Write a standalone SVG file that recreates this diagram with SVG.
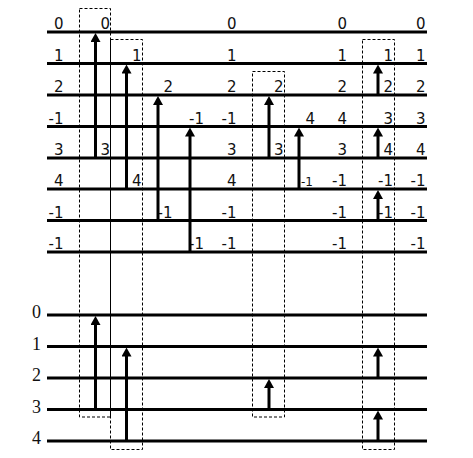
<svg xmlns="http://www.w3.org/2000/svg" width="473" height="458" viewBox="0 0 473 458">
<style>
.wire{stroke:#000;stroke-width:3;fill:none}
.arr{stroke:#000;stroke-width:3;fill:none;marker-end:url(#ah)}
.box{stroke:#000;stroke-width:1;fill:none;stroke-dasharray:3 2}
.t{font-family:"DejaVu Sans",Verdana,sans-serif;font-size:15px;fill:#111;text-anchor:end}
.ts{font-size:12px}
.b{font-family:"Liberation Serif","Times New Roman",serif;font-size:18px;fill:#111;text-anchor:end}
</style>
<defs>
<marker id="ah" markerUnits="userSpaceOnUse" markerWidth="10" markerHeight="10" refX="1" refY="5" orient="auto" viewBox="0 0 9 10">
<path d="M0,0 L9,5 L0,10 z" fill="#000"/>
</marker>
</defs>
<rect width="473" height="458" fill="#fff"/>
<g id="wires-top">
<line class="wire" x1="47" y1="32" x2="427" y2="32"/>
<line class="wire" x1="47" y1="63.5" x2="427" y2="63.5"/>
<line class="wire" x1="47" y1="95" x2="427" y2="95"/>
<line class="wire" x1="47" y1="126.5" x2="427" y2="126.5"/>
<line class="wire" x1="47" y1="158" x2="427" y2="158"/>
<line class="wire" x1="47" y1="189" x2="427" y2="189"/>
<line class="wire" x1="47" y1="220.5" x2="427" y2="220.5"/>
<line class="wire" x1="47" y1="252" x2="427" y2="252"/>
</g>
<g id="wires-bottom">
<line class="wire" x1="47" y1="315" x2="427" y2="315"/>
<line class="wire" x1="47" y1="346.5" x2="427" y2="346.5"/>
<line class="wire" x1="47" y1="378" x2="427" y2="378"/>
<line class="wire" x1="47" y1="409.5" x2="427" y2="409.5"/>
<line class="wire" x1="47" y1="441" x2="427" y2="441"/>
</g>
<g id="boxes">
<rect class="box" x="79.5" y="8.5" width="31" height="408.5"/>
<rect class="box" x="110.5" y="39.5" width="32" height="410"/>
<line x1="110.5" y1="39.5" x2="110.5" y2="417" stroke="#000" stroke-width="1"/>
<rect class="box" x="252.5" y="71.5" width="32" height="345.5"/>
<rect class="box" x="362.5" y="39.5" width="32" height="410"/>
</g>
<g id="labels-top">
<g id="colA">
<text class="t" x="63.5" y="29">0</text>
<text class="t" x="63.5" y="60.5">1</text>
<text class="t" x="63.5" y="92">2</text>
<text class="t" x="63.5" y="123.5">-1</text>
<text class="t" x="63.5" y="155">3</text>
<text class="t" x="63.5" y="186">4</text>
<text class="t" x="63.5" y="217.5">-1</text>
<text class="t" x="63.5" y="249">-1</text>
</g>
<g id="colB">
<text class="t" x="110" y="29">0</text>
<text class="t" x="141.5" y="60.5">1</text>
<text class="t" x="173" y="92">2</text>
<text class="t" x="204" y="123.5">-1</text>
<text class="t" x="110" y="155">3</text>
<text class="t" x="141.5" y="186">4</text>
<text class="t" x="172.5" y="217.5">-1</text>
<text class="t" x="204" y="249">-1</text>
</g>
<g id="colC">
<text class="t" x="236.5" y="29">0</text>
<text class="t" x="236.5" y="60.5">1</text>
<text class="t" x="236.5" y="92">2</text>
<text class="t" x="236.5" y="123.5">-1</text>
<text class="t" x="236.5" y="155">3</text>
<text class="t" x="236.5" y="186">4</text>
<text class="t" x="236.5" y="217.5">-1</text>
<text class="t" x="236.5" y="249">-1</text>
</g>
<g id="colBox3">
<text class="t" x="283.5" y="92">2</text>
<text class="t" x="283.5" y="155">3</text>
<text class="t" x="315" y="123.5">4</text>
<text class="t ts" x="313" y="186">-1</text>
</g>
<g id="colD">
<text class="t" x="347" y="29">0</text>
<text class="t" x="347" y="60.5">1</text>
<text class="t" x="347" y="92">2</text>
<text class="t" x="347" y="123.5">4</text>
<text class="t" x="347" y="155">3</text>
<text class="t" x="347" y="186">-1</text>
<text class="t" x="347" y="217.5">-1</text>
<text class="t" x="347" y="249">-1</text>
</g>
<g id="colBox4">
<text class="t" x="393" y="60.5">1</text>
<text class="t" x="393" y="92">2</text>
<text class="t" x="393" y="123.5">3</text>
<text class="t" x="393" y="155">4</text>
<text class="t" x="393" y="186">-1</text>
<text class="t" x="393" y="217.5">-1</text>
</g>
<g id="colE">
<text class="t" x="425.5" y="29">0</text>
<text class="t" x="425.5" y="60.5">1</text>
<text class="t" x="425.5" y="92">2</text>
<text class="t" x="425.5" y="123.5">3</text>
<text class="t" x="425.5" y="155">4</text>
<text class="t" x="425.5" y="186">-1</text>
<text class="t" x="425.5" y="217.5">-1</text>
<text class="t" x="425.5" y="249">-1</text>
</g>
</g>
<g id="labels-bottom">
<text class="b" x="41" y="318">0</text>
<text class="b" x="41" y="349.5">1</text>
<text class="b" x="41" y="381">2</text>
<text class="b" x="41" y="412.5">3</text>
<text class="b" x="41" y="444">4</text>
</g>
<g id="connectors">
<line class="arr" x1="95.5" y1="158" x2="95.5" y2="41"/>
<line class="arr" x1="126.5" y1="189" x2="126.5" y2="72.5"/>
<line class="arr" x1="158" y1="220.5" x2="158" y2="104"/>
<line class="arr" x1="190" y1="252" x2="190" y2="135.5"/>
<line class="arr" x1="269" y1="158" x2="269" y2="104"/>
<line class="arr" x1="299" y1="189" x2="299" y2="135.5"/>
<line class="arr" x1="378" y1="95" x2="378" y2="72.5"/>
<line class="arr" x1="378" y1="158" x2="378" y2="135.5"/>
<line class="arr" x1="378" y1="220.5" x2="378" y2="198"/>
<line class="arr" x1="95.5" y1="409.5" x2="95.5" y2="324"/>
<line class="arr" x1="126.5" y1="441" x2="126.5" y2="355.5"/>
<line class="arr" x1="269" y1="409.5" x2="269" y2="387"/>
<line class="arr" x1="378" y1="378" x2="378" y2="355.5"/>
<line class="arr" x1="378" y1="441" x2="378" y2="418.5"/>
</g>
</svg>
